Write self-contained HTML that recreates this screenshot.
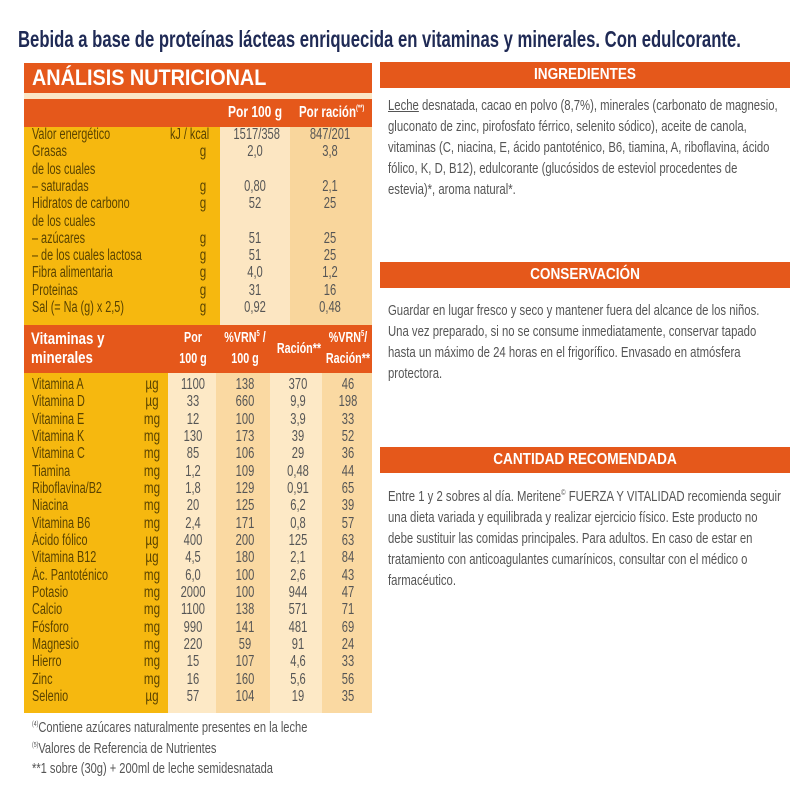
<!DOCTYPE html>
<html><head><meta charset="utf-8"><style>
*{margin:0;padding:0;box-sizing:border-box}
body{width:800px;height:800px;background:#fff;position:relative;overflow:hidden;font-family:"Liberation Sans",sans-serif;color:#555}
.a{position:absolute}
.c{position:absolute;white-space:nowrap;transform:scaleX(.78);transform-origin:0 50%}
.bar{position:absolute;background:#e5581b}
.h{position:absolute;color:#fff;font-weight:bold;font-size:16px;text-align:center;white-space:nowrap;transform:scaleX(.85)}
.t{font-size:15px;line-height:21px;color:#555}
.r{position:absolute;left:0;width:800px;height:17.33px;line-height:17.33px}
.r span{position:absolute;white-space:nowrap;font-size:15.5px}
.nm{left:32px;transform:scaleX(.7);transform-origin:0 50%;color:#5a4300}
.u{width:30px;text-align:center;transform:scaleX(.75);color:#5a4300}
.v{width:60px;text-align:center;transform:scaleX(.72);color:#555}
sup{line-height:0}
</style></head><body>
<div class="c" style="left:18px;top:26px;font-size:23px;font-weight:bold;color:#1f2a55;transform:scaleX(.725)">Bebida a base de proteínas lácteas enriquecida en vitaminas y minerales. Con edulcorante.</div>

<div class="bar" style="left:24px;top:63px;width:348px;height:30px"></div>
<div class="c" style="left:32px;top:64px;font-size:22px;line-height:28px;font-weight:bold;color:#fff;transform:scaleX(.9)">ANÁLISIS NUTRICIONAL</div>
<div class="a" style="left:24px;top:93px;width:348px;height:6px;background:#fbe7c6"></div>
<div class="bar" style="left:24px;top:99px;width:348px;height:28px"></div>
<div class="c" style="left:228px;top:100px;font-size:16px;line-height:26px;font-weight:bold;color:#fff;transform:scaleX(.75)">Por 100 g</div>
<div class="c" style="left:299px;top:100px;font-size:16px;line-height:26px;font-weight:bold;color:#fff;transform:scaleX(.72)">Por ración<sup style="font-size:8px">(**)</sup></div>
<div class="a" style="left:24px;top:127px;width:196px;height:198px;background:#f6b80f"></div>
<div class="a" style="left:220px;top:127px;width:70px;height:198px;background:#fce6c2"></div>
<div class="a" style="left:290px;top:127px;width:82px;height:198px;background:#f9d69c"></div>

<div class="a" style="left:0;top:126px;width:800px">
<div class="r" style="top:0"><span class="nm">Valor energético</span><span class="nm" style="left:170px">kJ / kcal</span><span class="v" style="left:225px">1517/358</span><span class="v" style="left:300px">847/201</span></div>
<div class="r" style="top:17.3px"><span class="nm">Grasas</span><span class="u" style="left:188px">g</span><span class="v" style="left:225px">2,0</span><span class="v" style="left:300px">3,8</span></div>
<div class="r" style="top:34.6px"><span class="nm">de los cuales</span></div>
<div class="r" style="top:51.9px"><span class="nm">– saturadas</span><span class="u" style="left:188px">g</span><span class="v" style="left:225px">0,80</span><span class="v" style="left:300px">2,1</span></div>
<div class="r" style="top:69.2px"><span class="nm">Hidratos de carbono</span><span class="u" style="left:188px">g</span><span class="v" style="left:225px">52</span><span class="v" style="left:300px">25</span></div>
<div class="r" style="top:86.5px"><span class="nm">de los cuales</span></div>
<div class="r" style="top:103.8px"><span class="nm">– azúcares</span><span class="u" style="left:188px">g</span><span class="v" style="left:225px">51</span><span class="v" style="left:300px">25</span></div>
<div class="r" style="top:121.1px"><span class="nm">– de los cuales lactosa</span><span class="u" style="left:188px">g</span><span class="v" style="left:225px">51</span><span class="v" style="left:300px">25</span></div>
<div class="r" style="top:138.4px"><span class="nm">Fibra alimentaria</span><span class="u" style="left:188px">g</span><span class="v" style="left:225px">4,0</span><span class="v" style="left:300px">1,2</span></div>
<div class="r" style="top:155.7px"><span class="nm">Proteinas</span><span class="u" style="left:188px">g</span><span class="v" style="left:225px">31</span><span class="v" style="left:300px">16</span></div>
<div class="r" style="top:173px"><span class="nm">Sal (= Na (g) x 2,5)</span><span class="u" style="left:188px">g</span><span class="v" style="left:225px">0,92</span><span class="v" style="left:300px">0,48</span></div>
</div>

<div class="bar" style="left:24px;top:325px;width:348px;height:48px"></div>
<div class="c" style="left:31px;top:329px;font-size:17px;line-height:19px;font-weight:bold;color:#fff;transform:scaleX(.78)">Vitaminas y<br>minerales</div>
<div class="a" style="left:168px;top:328px;width:50px;text-align:center;font-size:14.5px;line-height:21px;font-weight:bold;color:#fff;transform:scaleX(.74)">Por<br>100 g</div>
<div class="a" style="left:215px;top:328px;width:60px;text-align:center;font-size:14.5px;line-height:21px;font-weight:bold;color:#fff;transform:scaleX(.74)">%VRN<sup style="font-size:8px">5</sup> /<br>100 g</div>
<div class="a" style="left:268px;top:339px;width:62px;text-align:center;font-size:14.5px;line-height:21px;font-weight:bold;color:#fff;transform:scaleX(.74)">Ración**</div>
<div class="a" style="left:318px;top:328px;width:60px;text-align:center;font-size:14.5px;line-height:21px;font-weight:bold;color:#fff;transform:scaleX(.74)">%VRN<sup style="font-size:8px">5</sup>/<br>Ración**</div>

<div class="a" style="left:24px;top:373px;width:144px;height:340px;background:#f6b80f"></div>
<div class="a" style="left:168px;top:373px;width:48px;height:340px;background:#fde9c6"></div>
<div class="a" style="left:216px;top:373px;width:54px;height:340px;background:#fad9a2"></div>
<div class="a" style="left:270px;top:373px;width:52px;height:340px;background:#fde9c6"></div>
<div class="a" style="left:322px;top:373px;width:50px;height:340px;background:#fad9a2"></div>

<div class="a" style="left:0;top:376px;width:800px">
<div class="r" style="top:0"><span class="nm">Vitamina A</span><span class="u" style="left:137px">µg</span><span class="v" style="left:163px">1100</span><span class="v" style="left:215px">138</span><span class="v" style="left:268px">370</span><span class="v" style="left:318px">46</span></div>
<div class="r" style="top:17.33px"><span class="nm">Vitamina D</span><span class="u" style="left:137px">µg</span><span class="v" style="left:163px">33</span><span class="v" style="left:215px">660</span><span class="v" style="left:268px">9,9</span><span class="v" style="left:318px">198</span></div>
<div class="r" style="top:34.66px"><span class="nm">Vitamina E</span><span class="u" style="left:137px">mg</span><span class="v" style="left:163px">12</span><span class="v" style="left:215px">100</span><span class="v" style="left:268px">3,9</span><span class="v" style="left:318px">33</span></div>
<div class="r" style="top:52px"><span class="nm">Vitamina K</span><span class="u" style="left:137px">mg</span><span class="v" style="left:163px">130</span><span class="v" style="left:215px">173</span><span class="v" style="left:268px">39</span><span class="v" style="left:318px">52</span></div>
<div class="r" style="top:69.3px"><span class="nm">Vitamina C</span><span class="u" style="left:137px">mg</span><span class="v" style="left:163px">85</span><span class="v" style="left:215px">106</span><span class="v" style="left:268px">29</span><span class="v" style="left:318px">36</span></div>
<div class="r" style="top:86.6px"><span class="nm">Tiamina</span><span class="u" style="left:137px">mg</span><span class="v" style="left:163px">1,2</span><span class="v" style="left:215px">109</span><span class="v" style="left:268px">0,48</span><span class="v" style="left:318px">44</span></div>
<div class="r" style="top:104px"><span class="nm">Riboflavina/B2</span><span class="u" style="left:137px">mg</span><span class="v" style="left:163px">1,8</span><span class="v" style="left:215px">129</span><span class="v" style="left:268px">0,91</span><span class="v" style="left:318px">65</span></div>
<div class="r" style="top:121.3px"><span class="nm">Niacina</span><span class="u" style="left:137px">mg</span><span class="v" style="left:163px">20</span><span class="v" style="left:215px">125</span><span class="v" style="left:268px">6,2</span><span class="v" style="left:318px">39</span></div>
<div class="r" style="top:138.6px"><span class="nm">Vitamina B6</span><span class="u" style="left:137px">mg</span><span class="v" style="left:163px">2,4</span><span class="v" style="left:215px">171</span><span class="v" style="left:268px">0,8</span><span class="v" style="left:318px">57</span></div>
<div class="r" style="top:156px"><span class="nm">Ácido fólico</span><span class="u" style="left:137px">µg</span><span class="v" style="left:163px">400</span><span class="v" style="left:215px">200</span><span class="v" style="left:268px">125</span><span class="v" style="left:318px">63</span></div>
<div class="r" style="top:173.3px"><span class="nm">Vitamina B12</span><span class="u" style="left:137px">µg</span><span class="v" style="left:163px">4,5</span><span class="v" style="left:215px">180</span><span class="v" style="left:268px">2,1</span><span class="v" style="left:318px">84</span></div>
<div class="r" style="top:190.6px"><span class="nm">Ác. Pantoténico</span><span class="u" style="left:137px">mg</span><span class="v" style="left:163px">6,0</span><span class="v" style="left:215px">100</span><span class="v" style="left:268px">2,6</span><span class="v" style="left:318px">43</span></div>
<div class="r" style="top:208px"><span class="nm">Potasio</span><span class="u" style="left:137px">mg</span><span class="v" style="left:163px">2000</span><span class="v" style="left:215px">100</span><span class="v" style="left:268px">944</span><span class="v" style="left:318px">47</span></div>
<div class="r" style="top:225.3px"><span class="nm">Calcio</span><span class="u" style="left:137px">mg</span><span class="v" style="left:163px">1100</span><span class="v" style="left:215px">138</span><span class="v" style="left:268px">571</span><span class="v" style="left:318px">71</span></div>
<div class="r" style="top:242.6px"><span class="nm">Fósforo</span><span class="u" style="left:137px">mg</span><span class="v" style="left:163px">990</span><span class="v" style="left:215px">141</span><span class="v" style="left:268px">481</span><span class="v" style="left:318px">69</span></div>
<div class="r" style="top:260px"><span class="nm">Magnesio</span><span class="u" style="left:137px">mg</span><span class="v" style="left:163px">220</span><span class="v" style="left:215px">59</span><span class="v" style="left:268px">91</span><span class="v" style="left:318px">24</span></div>
<div class="r" style="top:277.3px"><span class="nm">Hierro</span><span class="u" style="left:137px">mg</span><span class="v" style="left:163px">15</span><span class="v" style="left:215px">107</span><span class="v" style="left:268px">4,6</span><span class="v" style="left:318px">33</span></div>
<div class="r" style="top:294.6px"><span class="nm">Zinc</span><span class="u" style="left:137px">mg</span><span class="v" style="left:163px">16</span><span class="v" style="left:215px">160</span><span class="v" style="left:268px">5,6</span><span class="v" style="left:318px">56</span></div>
<div class="r" style="top:312px"><span class="nm">Selenio</span><span class="u" style="left:137px">µg</span><span class="v" style="left:163px">57</span><span class="v" style="left:215px">104</span><span class="v" style="left:268px">19</span><span class="v" style="left:318px">35</span></div>
</div>

<div class="c t" style="left:32px;top:718px;line-height:20.5px;transform:scaleX(.74)"><sup style="font-size:7px">(4)</sup>Contiene azúcares naturalmente presentes en la leche<br><sup style="font-size:7px">(5)</sup>Valores de Referencia de Nutrientes<br>**1 sobre (30g) + 200ml de leche semidesnatada</div>

<div class="bar" style="left:380px;top:62px;width:410px;height:26px"></div>
<div class="h" style="left:380px;top:65px;width:410px;line-height:20px">INGREDIENTES</div>
<div class="c t" style="left:388px;top:95px;transform:scaleX(.755)"><u>Leche</u> desnatada, cacao en polvo (8,7%), minerales (carbonato de magnesio,<br>gluconato de zinc, pirofosfato férrico, selenito sódico), aceite de canola,<br>vitaminas (C, niacina, E, ácido pantoténico, B6, tiamina, A, riboflavina, ácido<br>fólico, K, D, B12), edulcorante (glucósidos de esteviol procedentes de<br>estevia)*, aroma natural*.</div>

<div class="bar" style="left:380px;top:262px;width:410px;height:26px"></div>
<div class="h" style="left:380px;top:265px;width:410px;line-height:20px">CONSERVACIÓN</div>
<div class="c t" style="left:388px;top:300px;transform:scaleX(.755)">Guardar en lugar fresco y seco y mantener fuera del alcance de los niños.<br>Una vez preparado, si no se consume inmediatamente, conservar tapado<br>hasta un máximo de 24 horas en el frigorífico. Envasado en atmósfera<br>protectora.</div>

<div class="bar" style="left:380px;top:447px;width:410px;height:26px"></div>
<div class="h" style="left:380px;top:450px;width:410px;line-height:20px">CANTIDAD RECOMENDADA</div>
<div class="c t" style="left:388px;top:486px;transform:scaleX(.755)">Entre 1 y 2 sobres al día. Meritene<sup style="font-size:8px">©</sup> FUERZA Y VITALIDAD recomienda seguir<br>una dieta variada y equilibrada y realizar ejercicio físico. Este producto no<br>debe sustituir las comidas principales. Para adultos. En caso de estar en<br>tratamiento con anticoagulantes cumarínicos, consultar con el médico o<br>farmacéutico.</div>
</body></html>
